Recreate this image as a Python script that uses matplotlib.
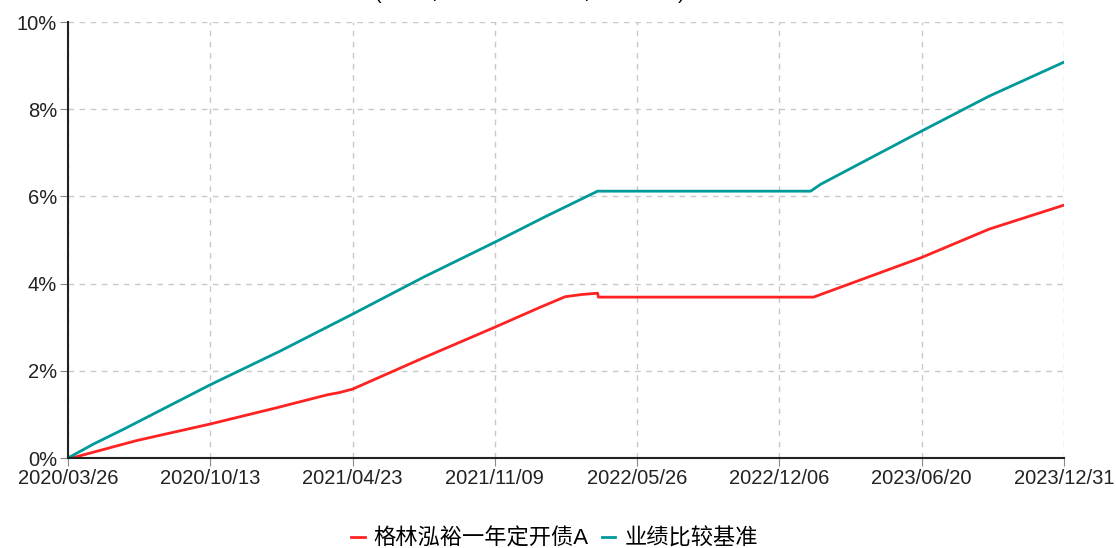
import matplotlib
matplotlib.use("Agg")
import matplotlib.pyplot as plt
import matplotlib.dates as mdates
import numpy as np
import pandas as pd

plt.rcParams["font.family"] = ["Liberation Sans", "Noto Sans CJK SC", "DejaVu Sans"]

title = "(2020年03月26日-2023年12月31日)"
fund_name = "格林泓裕一年定开债A"
bench_name = "业绩比较基准"

tick_dates = ["2020-03-26", "2020-10-13", "2021-04-23", "2021-11-09",
              "2022-05-26", "2022-12-06", "2023-06-20", "2023-12-31"]
tick_labels = ["2020/03/26", "2020/10/13", "2021/04/23", "2021/11/09",
               "2022/05/26", "2022/12/06", "2023/06/20", "2023/12/31"]

fund_dates = ["2020-03-26", "2020-04-05", "2020-07-01", "2020-10-13", "2021-01-10",
              "2021-03-20", "2021-04-05", "2021-04-23", "2021-08-01", "2021-11-09",
              "2022-01-10", "2022-02-15", "2022-03-10", "2022-04-01", "2022-04-02",
              "2023-01-22", "2023-06-20", "2023-09-20", "2023-12-31"]
fund_values = [0.00, 0.02, 0.40, 0.78, 1.15,
               1.45, 1.50, 1.58, 2.30, 3.00,
               3.45, 3.70, 3.75, 3.78, 3.69,
               3.69, 4.60, 5.25, 5.80]

bench_dates = ["2020-03-26", "2020-05-01", "2020-06-15", "2020-10-13", "2021-01-15",
               "2021-04-23", "2021-08-01", "2021-11-09", "2022-01-20", "2022-04-01",
               "2023-01-18", "2023-02-01", "2023-06-20", "2023-09-20", "2023-12-31"]
bench_values = [0.00, 0.32, 0.68, 1.68, 2.45,
                3.30, 4.15, 4.95, 5.55, 6.12,
                6.12, 6.28, 7.50, 8.30, 9.08]

# x axis is evenly spaced between the labelled dates (trading-day style)
tick_num = mdates.date2num(pd.to_datetime(tick_dates))
tick_pos = np.arange(len(tick_dates))


def to_x(dates):
    return np.interp(mdates.date2num(pd.to_datetime(dates)), tick_num, tick_pos)


fig = plt.figure(figsize=(11.16, 5.48), dpi=100)
ax = fig.add_axes([68 / 1116, 90 / 548, (1064 - 68) / 1116, (458 - 22) / 548])

ax.plot(to_x(fund_dates), fund_values, color="#ff2222", linewidth=2.0, label=fund_name)
ax.plot(to_x(bench_dates), bench_values, color="#009999", linewidth=2.0, label=bench_name)

ax.set_xlim(tick_pos[0], tick_pos[-1])
ax.set_ylim(0, 10)
ax.set_xticks(tick_pos)
ax.set_xticklabels(tick_labels)
ax.set_yticks(np.arange(0, 11, 2))
ax.set_yticklabels([f"{v}%" for v in range(0, 11, 2)])

ax.grid(True, color="#c8c8c8", linestyle=(0, (4, 4)), linewidth=1.0)
for side in ["top", "right"]:
    ax.spines[side].set_visible(False)
for side in ["left", "bottom"]:
    ax.spines[side].set_color("#222222")
    ax.spines[side].set_linewidth(1.5)
ax.tick_params(axis="both", length=6, color="#888888", labelsize=14.5, labelcolor="#222222", pad=2)

fig.text(0.475, 1 - 3 / 548, title, ha="center", va="bottom", fontsize=14)

fig.legend(loc="center", bbox_to_anchor=(0.497, 9 / 548), ncol=2, frameon=False,
           handlelength=0.6, handletextpad=0.4, columnspacing=0.6, fontsize=16)

fig.savefig("out.png", dpi=100)
